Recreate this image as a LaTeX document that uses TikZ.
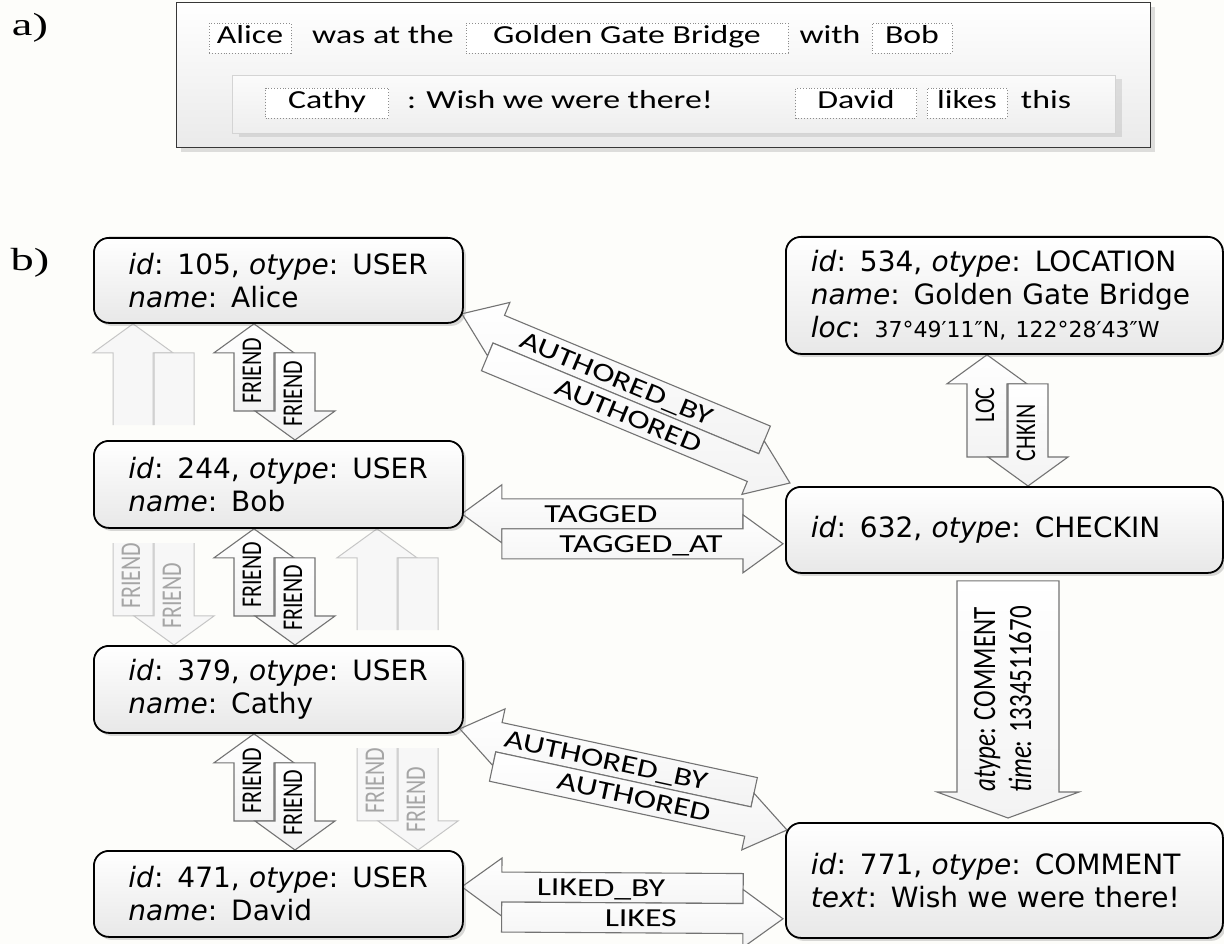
\documentclass[tikz,border=0pt]{standalone}
\usepackage{fontspec}
\usepackage{graphicx}
\usetikzlibrary{calc,shadows}
\newfontfamily\nodefont{DejaVu Sans}
\newfontfamily\labfont{Carlito}
\newfontfamily\panelfont{Liberation Serif}
\definecolor{bgc}{RGB}{253,253,250}
\definecolor{arrline}{RGB}{115,115,115}
\definecolor{arrfillb}{RGB}{243,243,243}
\definecolor{fadeline}{RGB}{198,198,198}
\definecolor{fadefill}{RGB}{247,247,247}
\definecolor{fadetext}{RGB}{165,165,165}
\definecolor{nodebot}{RGB}{232,232,232}
\definecolor{wordline}{RGB}{140,140,140}
\definecolor{outerline}{RGB}{55,55,55}
\definecolor{outerbot}{RGB}{234,234,234}
\definecolor{innerline}{RGB}{212,212,212}
\definecolor{innertop}{RGB}{251,251,251}
\definecolor{innerbot}{RGB}{238,238,238}
\pgfdeclarelayer{back}
\pgfdeclarelayer{arr}
\pgfsetlayers{back,arr,main}
\newcommand\hstr[1]{\scalebox{1.3}[1]{#1}}
\newcommand\vstr[1]{\scalebox{1}[1.3]{#1}}
\newcommand\horizgeom{\def\PWd{30}\def\PHd{40}\def\PSa{15}\def\PSb{29}\def\PSG{1}\def\PLR{0}}
\newcommand\vertgeom{\def\PWd{41}\def\PHd{29}\def\PSa{20}\def\PSb{40}\def\PSG{-1}\def\PLR{180}}
% #1 arrow style, #2 label style, #3 P1, #4 P2, #5 label A, #6 pos A, #7 label B, #8 pos B, #9 name
\newcommand\blockpair[9]{%
  \path let \p1=(#3), \p2=(#4),
    \n1={atan2(\y2-\y1,\x2-\x1)},
    \n2={veclen(\x2-\x1,\y2-\y1)},
    \n3={asin(\PWd/\n2)} in
    \pgfextra{\pgfmathsetmacro\PAtmp{\n1+(\PSG)*\n3}\xdef\PAang{\PAtmp}%
              \pgfmathsetmacro\PAtmp{\n2*cos(\n3)/2}\xdef\PAhl{\PAtmp}};
  \begin{scope}[shift={($(#3)!0.5!(#4)$)}, rotate=\PAang]
    \pgfmathsetmacro\PAyA{-1*(\PSG)*\PWd/2}
    \pgfmathsetmacro\PAyB{(\PSG)*\PWd/2}
    \pgfmathsetmacro\PAxs{-1*\PAhl+\PHd}
    \pgfmathsetmacro\PAxe{\PAhl-\PHd}
    \pgfmathsetmacro\PAlr{\PAang+\PLR}
    \draw[#1] (-\PAhl,\PAyA) -- (\PAxs,\PAyA-\PSb) -- (\PAxs,\PAyA-\PSa) -- (\PAxe,\PAyA-\PSa)
      -- (\PAxe,\PAyA+\PSa) -- (\PAxs,\PAyA+\PSa) -- (\PAxs,\PAyA+\PSb) -- cycle;
    \draw[#1] (\PAhl,\PAyB) -- (\PAxe,\PAyB-\PSb) -- (\PAxe,\PAyB-\PSa) -- (\PAxs,\PAyB-\PSa)
      -- (\PAxs,\PAyB+\PSa) -- (\PAxe,\PAyB+\PSa) -- (\PAxe,\PAyB+\PSb) -- cycle;
    \node[#2, rotate=\PAlr] (#9a) at (#6,\PAyA) {#5};
    \node[#2, rotate=\PAlr] (#9b) at (#8,\PAyB) {#7};
  \end{scope}}
\begin{document}
\begin{tikzpicture}[x=1pt,y=-1pt,
  objnode/.style={draw=black, line width=1.8pt, rounded corners=15pt, top color=white,
    bottom color=nodebot, drop shadow={shadow xshift=3pt,shadow yshift=-3pt,opacity=0.3},
    anchor=north west, inner ysep=0pt, align=left,
    font={\nodefont\fontsize{28}{33}\selectfont}},
  leftnode/.style={objnode, text width=300pt, inner xsep=34.5pt},
  rightnode/.style={objnode, text width=387pt, inner xsep=25pt},
  blockarrow/.style={draw=arrline, line width=1.1pt, top color=white, bottom color=arrfillb},
  fadearrow/.style={draw=fadeline, line width=1pt, fill=fadefill},
  hlab/.style={font={\labfont\fontsize{26}{30}\selectfont}, inner sep=0pt, text height=17pt, text depth=0pt},
  vlab/.style={font={\labfont\fontsize{22}{26}\selectfont}, inner sep=0pt, text height=14pt, text depth=0pt},
  fadelab/.style={vlab, text=fadetext},
  clab/.style={font={\labfont\fontsize{25}{28}\selectfont}, inner sep=0pt, text height=16pt, text depth=0pt},
  wordbox/.style={draw=wordline, dotted, line width=0.9pt, fill=white, inner sep=0pt,
    minimum height=30pt, text height=18pt, text depth=6pt, font={\labfont\fontsize{26}{30}\selectfont}},
  plainword/.style={inner sep=0pt, text height=18pt, text depth=6pt, font={\labfont\fontsize{26}{30}\selectfont}},
  panellab/.style={inner sep=0pt, font={\panelfont\fontsize{32}{36}\selectfont}},
  outerbox/.style={draw=outerline, line width=1.4pt, top color=white, bottom color=outerbot,
    drop shadow={shadow xshift=4pt,shadow yshift=-4pt,opacity=0.25}, anchor=north west, inner sep=0pt},
  innerbox/.style={draw=innerline, line width=1pt, top color=innertop, bottom color=innerbot,
    drop shadow={shadow xshift=6pt,shadow yshift=-4pt,opacity=0.2}, anchor=north west, inner sep=0pt}]
\begin{pgfonlayer}{back}
  \fill[bgc] (0,0) rectangle (1224,944);
\end{pgfonlayer}
\useasboundingbox (0,0) rectangle (1224,944);

% ---------- panel a ----------
\node[panellab] (pa) at (30,28) {\scalebox{1.45}[1]{a)}};
\node[outerbox, minimum width=974pt, minimum height=145pt] (abox) at (176,2) {};
\node[innerbox, minimum width=883pt, minimum height=58pt] (ibox) at (232,75) {};
\node[wordbox, minimum width=82pt] (wAlice) at (250,38) {\hstr{Alice}};
\node[plainword] (wWas) at (383,38) {\hstr{was at the}};
\node[wordbox, minimum width=322pt] (wGGB) at (627,38) {\hstr{Golden Gate Bridge}};
\node[plainword] (wWith) at (830,38) {\hstr{with}};
\node[wordbox, minimum width=80pt] (wBob) at (912,38) {\hstr{Bob}};
\node[wordbox, minimum width=123pt] (wCathy) at (327,103) {\hstr{Cathy}};
\node[plainword] (wWish) at (560,103) {\hstr{: Wish we were there!}};
\node[wordbox, minimum width=121pt] (wDavid) at (856,103) {\hstr{David}};
\node[wordbox, minimum width=80pt] (wLikes) at (967,103) {\hstr{likes}};
\node[plainword] (wThis) at (1046,103) {\hstr{this}};

% ---------- panel b ----------
\node[panellab] (pb) at (30,263) {\scalebox{1.45}[1]{b)}};
\node[leftnode, minimum height=85pt] (alice) at (93,237) {\mbox{\textit{id}: 105, \textit{otype}: USER}\\\mbox{\textit{name}: Alice}};
\node[leftnode, minimum height=87pt] (bob) at (93,440) {\mbox{\textit{id}: 244, \textit{otype}: USER}\\\mbox{\textit{name}: Bob}};
\node[leftnode, minimum height=87pt] (cathy) at (93,645) {\mbox{\textit{id}: 379, \textit{otype}: USER}\\\mbox{\textit{name}: Cathy}};
\node[leftnode, minimum height=86pt] (david) at (93,850) {\mbox{\textit{id}: 471, \textit{otype}: USER}\\\mbox{\textit{name}: David}};
\node[rightnode, minimum height=117pt] (loc) at (785,236) {\mbox{\textit{id}: 534, \textit{otype}: LOCATION}\\\mbox{\textit{name}: Golden Gate Bridge}\\\mbox{\textit{loc}: {\fontsize{22}{33}\selectfont 37°49′11″N, 122°28′43″W}}};
\node[rightnode, minimum height=86pt] (checkin) at (785,486) {\mbox{\textit{id}: 632, \textit{otype}: CHECKIN}};
\node[rightnode, minimum height=115pt] (comment) at (785,822) {\mbox{\textit{id}: 771, \textit{otype}: COMMENT}\\\mbox{\textit{text}: Wish we were there!}};

\begin{pgfonlayer}{arr}
  % faded FRIEND pairs (Alice-Cathy, Bob-David), partly hidden
  \vertgeom
  \begin{scope}
    \clip (60,300) rectangle (240,425) (60,543) rectangle (240,670);
    \blockpair{fadearrow}{fadelab}{$(alice.south west)+(40,0)$}{$(cathy.north west)+(81,0)$}{\vstr{FRIEND}}{91.5}{\vstr{FRIEND}}{111.5}{fAC}
  \end{scope}
  \begin{scope}
    \clip (320,505) rectangle (480,630) (320,748) rectangle (480,870);
    \blockpair{fadearrow}{fadelab}{$(bob.south west)+(284,0)$}{$(david.north west)+(325,0)$}{\vstr{FRIEND}}{91.5}{\vstr{FRIEND}}{110.5}{fBD}
  \end{scope}
  % FRIEND pairs
  \blockpair{blockarrow}{vlab}{$(alice.south west)+(161,0)$}{$(bob.north west)+(202,0)$}{\vstr{FRIEND}}{-11}{\vstr{FRIEND}}{12}{fAB}
  \blockpair{blockarrow}{vlab}{$(bob.south west)+(161,0)$}{$(cathy.north west)+(202,0)$}{\vstr{FRIEND}}{-12}{\vstr{FRIEND}}{11}{fBC}
  \blockpair{blockarrow}{vlab}{$(cathy.south west)+(161,0)$}{$(david.north west)+(202,0)$}{\vstr{FRIEND}}{-11}{\vstr{FRIEND}}{11}{fCD}
  % LOC / CHKIN
  \blockpair{blockarrow}{vlab}{$(loc.south west)+(202,0)$}{$(checkin.north west)+(243,0)$}{\vstr{LOC}}{-15.5}{\vstr{CHKIN}}{12.5}{lc}
  % horizontal / diagonal pairs
  \horizgeom
  \blockpair{blockarrow}{hlab}{$(alice.south east)+(-2,-10)$}{$(checkin.north west)+(5,-3)$}{\hstr{AUTHORED\_BY}}{-16}{\hstr{AUTHORED}}{9}{au1}
  \blockpair{blockarrow}{hlab}{$(bob.south east)+(-2,-15)$}{$(checkin.south west)+(-2,-30)$}{\hstr{TAGGED}}{-21.5}{\hstr{TAGGED\_AT}}{18.5}{tg}
  \blockpair{blockarrow}{hlab}{$(cathy.south east)+(-4,-5)$}{$(comment.north west)+(2,8)$}{\hstr{AUTHORED\_BY}}{-21}{\hstr{AUTHORED}}{14}{au2}
  \blockpair{blockarrow}{hlab}{$(david.south east)+(-2,-51)$}{$(comment.south west)+(-2,-20)$}{\hstr{LIKED\_BY}}{-21.5}{\hstr{LIKES}}{18.5}{lk}
  % COMMENT annotation arrow
  \coordinate (ctop) at ($(checkin.south west)+(223,7)$);
  \coordinate (ctip) at ($(comment.north west)+(223,-4)$);
  \coordinate (cmid) at ($(ctop)!0.5!(ctip)$);
  \draw[blockarrow] (ctip) -- ($(ctip)+(71,-26)$) -- ($(ctip)+(51,-26)$) -- ($(ctop)+(51,0)$)
    -- ($(ctop)+(-51,0)$) -- ($(ctip)+(-51,-26)$) -- ($(ctip)+(-71,-26)$) -- cycle;
  \node[clab, rotate=90] (catype) at ($(cmid)+(-21,0)$) {\vstr{\textit{atype}: COMMENT}};
  \node[clab, rotate=90] (ctime) at ($(cmid)+(15,0)$) {\vstr{\textit{time}: 1334511670}};
\end{pgfonlayer}
\end{tikzpicture}
\end{document}
